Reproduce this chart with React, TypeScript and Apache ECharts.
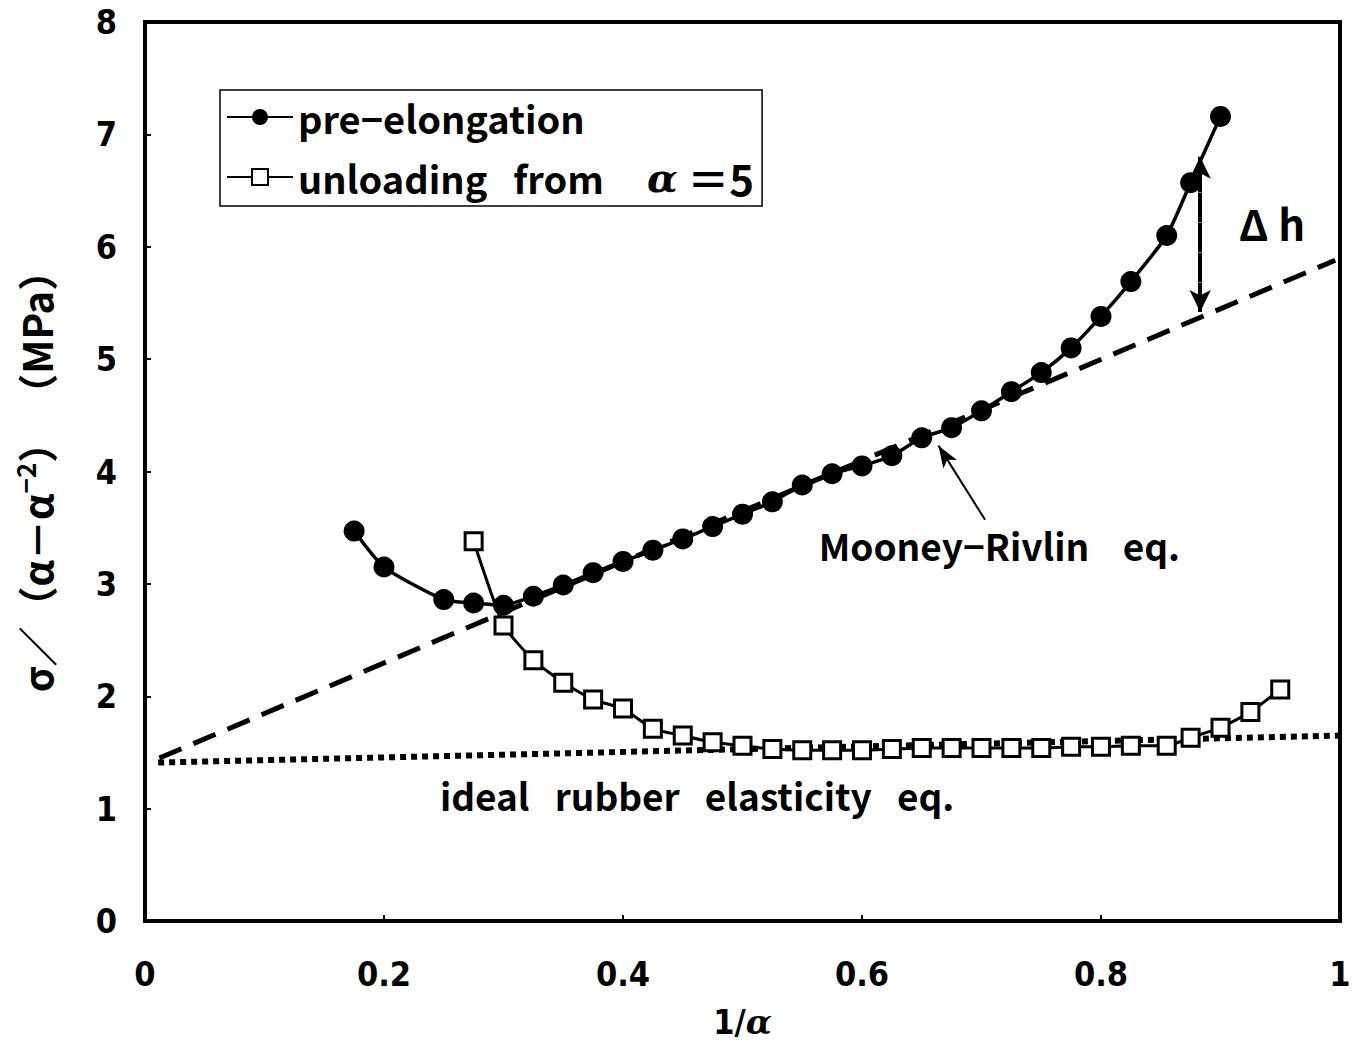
import React, { useEffect, useRef } from "react";
import * as echarts from "echarts";

const xPre = [0.175, 0.2, 0.25, 0.275, 0.3, 0.325, 0.35, 0.375, 0.4, 0.425, 0.45, 0.475, 0.5, 0.525, 0.55, 0.575, 0.6, 0.625, 0.65, 0.675, 0.7, 0.725, 0.75, 0.775, 0.8, 0.825, 0.855, 0.875, 0.9];
const yPre = [3.47, 3.15, 2.86, 2.83, 2.81, 2.89, 2.99, 3.1, 3.2, 3.3, 3.4, 3.51, 3.62, 3.73, 3.88, 3.98, 4.05, 4.14, 4.3, 4.39, 4.54, 4.71, 4.88, 5.1, 5.38, 5.69, 6.1, 6.57, 7.16];

const xUnl = [0.275, 0.3, 0.325, 0.35, 0.375, 0.4, 0.425, 0.45, 0.475, 0.5, 0.525, 0.55, 0.575, 0.6, 0.625, 0.65, 0.675, 0.7, 0.725, 0.75, 0.775, 0.8, 0.825, 0.855, 0.875, 0.9, 0.925, 0.95];
const yUnl = [3.38, 2.63, 2.32, 2.12, 1.97, 1.89, 1.71, 1.65, 1.59, 1.56, 1.53, 1.52, 1.52, 1.52, 1.53, 1.54, 1.54, 1.54, 1.54, 1.54, 1.55, 1.55, 1.56, 1.56, 1.63, 1.72, 1.86, 2.06];

const xMooney = [0.012, 0.996];
const yMooney = [1.45, 5.88];

const xIdeal = [0.011, 1.0];
const yIdeal = [1.41, 1.65];

const dhArrow = { x: 0.883, yLow: 5.42, yHigh: 6.8 };
const mrArrow = { x1: 0.703, y1: 3.57, x2: 0.664, y2: 4.23 };

const xTicks = ["0", "0.2", "0.4", "0.6", "0.8", "1"];
const yTicks = ["0", "1", "2", "3", "4", "5", "6", "7", "8"];

const NAME_PRE = "pre−elongation";
const NAME_UNL = "unloading";

const SP = "\u00A0";
const sp = (n: number) => SP.repeat(n);
const TICK_FONT = "'Liberation Sans Narrow', 'DejaVu Sans Condensed', 'Liberation Sans', sans-serif";
const TEXT_FONT = "'Noto Sans CJK JP', 'Noto Sans', sans-serif";

const zip = (xs: number[], ys: number[]) => xs.map((x, i) => [x, ys[i]]);

export default function App() {
  const ref = useRef<HTMLDivElement>(null);
  useEffect(() => {
    if (!ref.current) return;
    const chart = echarts.init(ref.current, null, { renderer: "svg" });
    const option: any = {
      animation: false,
      backgroundColor: "#fff",
      grid: {
        left: 145,
        right: 15,
        top: 22,
        bottom: 124,
        show: true,
        borderColor: "#000",
        borderWidth: 4,
        containLabel: false,
        outerBoundsMode: "none",
      },
      legend: {
        data: [NAME_PRE, NAME_UNL],
        orient: "vertical",
        left: 220,
        top: 90,
        itemWidth: 66,
        itemHeight: 20,
        itemGap: 20,
        padding: [8, 8, 8, 6],
        borderColor: "#000",
        borderWidth: 1.5,
        backgroundColor: "#fff",
        formatter: (name: string) =>
          name === NAME_UNL
            ? `unloading${sp(3)}from${sp(5)}{a|α}{b|${sp(1)}＝5}`
            : name,
        textStyle: {
          fontFamily: TEXT_FONT,
          fontWeight: "bold",
          fontSize: 38,
          color: "#000",
          rich: {
            a: { fontFamily: "'DejaVu Serif', serif", fontStyle: "italic", fontSize: 40, color: "#000" },
            b: { fontFamily: TEXT_FONT, fontWeight: "bold", fontSize: 42, color: "#000" },
          },
        },
      },
      xAxis: {
        type: "value",
        min: 0,
        max: 1,
        interval: 0.2,
        name: "1/{a|α}",
        nameLocation: "middle",
        nameGap: 84,
        nameTextStyle: {
          fontFamily: TICK_FONT,
          fontWeight: "bold",
          fontSize: 34,
          color: "#000",
          rich: { a: { fontFamily: "'DejaVu Serif', serif", fontStyle: "italic", fontWeight: "bold", fontSize: 34, color: "#000" } },
        },
        axisLine: { show: true, lineStyle: { color: "#000", width: 4 } },
        axisTick: { show: true, inside: true, length: 6, lineStyle: { color: "#000", width: 2 } },
        splitLine: { show: false },
        axisLabel: {
          margin: 36,
          fontFamily: TICK_FONT,
          fontWeight: "bold",
          fontSize: 34,
          color: "#000",
          formatter: (v: number) => xTicks[Math.round(v / 0.2)] ?? "",
        },
      },
      yAxis: {
        type: "value",
        min: 0,
        max: 8,
        interval: 1,
        name: `σ／（α－α{s|−2}）${sp(1)}（MPa）`,
        nameLocation: "middle",
        nameGap: 84,
        nameRotate: 90,
        nameTextStyle: {
          fontFamily: TEXT_FONT,
          fontWeight: "bold",
          fontSize: 40,
          color: "#000",
          rich: {
            s: { fontFamily: TEXT_FONT, fontWeight: "bold", fontSize: 26, color: "#000", padding: [0, 0, 24, 0] },
          },
        },
        axisLine: { show: true, lineStyle: { color: "#000", width: 4 } },
        axisTick: { show: true, inside: true, length: 6, lineStyle: { color: "#000", width: 2 } },
        splitLine: { show: false },
        axisLabel: {
          margin: 28,
          fontFamily: TICK_FONT,
          fontWeight: "bold",
          fontSize: 34,
          color: "#000",
          formatter: (v: number) => yTicks[Math.round(v)] ?? "",
        },
      },
      series: [
        {
          name: "Mooney",
          type: "line",
          data: zip(xMooney, yMooney),
          symbol: "none",
          lineStyle: { color: "#000", width: 5, type: [24, 13] },
          z: 1,
          silent: true,
        },
        {
          name: "Ideal",
          type: "line",
          data: zip(xIdeal, yIdeal),
          symbol: "none",
          lineStyle: { color: "#000", width: 6, type: [6, 5] },
          z: 1,
          silent: true,
        },
        {
          name: NAME_UNL,
          type: "line",
          data: zip(xUnl, yUnl),
          symbol: "rect",
          symbolSize: 17,
          smooth: 0.15,
          itemStyle: { color: "#fff", borderColor: "#000", borderWidth: 3 },
          lineStyle: { color: "#000", width: 3 },
          z: 3,
        },
        {
          name: NAME_PRE,
          type: "line",
          data: zip(xPre, yPre),
          symbol: "circle",
          symbolSize: 21,
          smooth: 0.2,
          itemStyle: { color: "#000", borderColor: "#000", borderWidth: 0 },
          lineStyle: { color: "#000", width: 3.5 },
          z: 4,
        },
        {
          name: "annot",
          type: "line",
          data: [],
          silent: true,
          markLine: {
            silent: true,
            label: { show: false },
            data: [
              [
                { coord: [dhArrow.x, dhArrow.yLow], symbol: "none" },
                { coord: [dhArrow.x, dhArrow.yHigh], symbol: "arrow" },
              ],
              [
                { coord: [dhArrow.x, dhArrow.yHigh - 0.05], symbol: "none" },
                { coord: [dhArrow.x, dhArrow.yLow], symbol: "arrow" },
              ],
            ],
            symbolSize: [16, 22],
            lineStyle: { color: "#000", width: 4, type: [20, 10] },
          },
          z: 5,
        },
        {
          name: "annot2",
          type: "line",
          data: [],
          silent: true,
          markLine: {
            silent: true,
            label: { show: false },
            data: [
              [
                { coord: [mrArrow.x1, mrArrow.y1], symbol: "none" },
                { coord: [mrArrow.x2, mrArrow.y2], symbol: "arrow" },
              ],
            ],
            symbolSize: [12, 22],
            lineStyle: { color: "#000", width: 2, type: "solid" },
          },
          z: 5,
        },
      ],
    };
    chart.setOption(option);

    const p = (x: number, y: number) => chart.convertToPixel({ gridIndex: 0 }, [x, y]) as number[];
    const mr = p(0.715, 3.35);
    const ideal = p(0.462, 1.12);
    const dh = p(0.943, 6.22);
    const txt = (pos: number[], text: string, size: number) => ({
      type: "text",
      x: pos[0],
      y: pos[1],
      z: 10,
      style: {
        text,
        fill: "#000",
        font: `bold ${size}px ${TEXT_FONT}`,
        align: "center",
        verticalAlign: "middle",
      },
    });
    chart.setOption({
      graphic: [
        txt(mr, `Mooney−Rivlin${sp(4)}eq.`, 37),
        txt(ideal, `ideal${sp(3)}rubber${sp(3)}elasticity${sp(3)}eq.`, 37),
        txt(dh, `Δ${SP}h`, 42),
      ],
    });

    return () => chart.dispose();
  }, []);
  return (
    <div
      ref={ref}
      style={{ position: "absolute", left: 0, top: 0, width: 1355, height: 1045 }}
    />
  );
}
